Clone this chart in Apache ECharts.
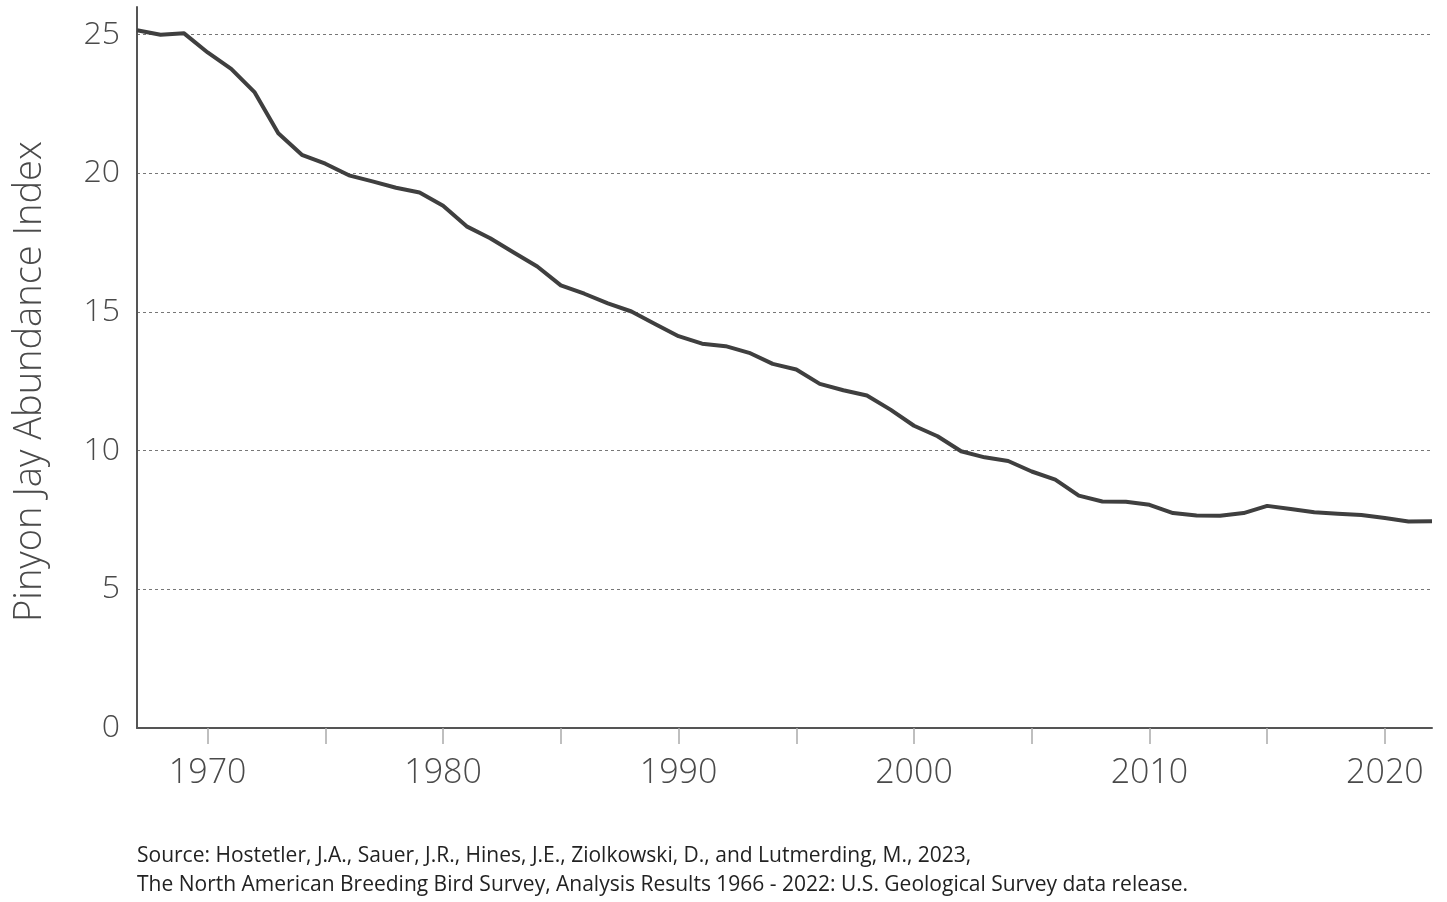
<!DOCTYPE html>
<html>
<head>
<meta charset="utf-8">
<script src="https://cdn.jsdelivr.net/npm/echarts@6/dist/echarts.min.js"></script>
<style>
html,body{margin:0;padding:0;background:#fff;}
#chart{width:1447px;height:902px;}
</style>
</head>
<body>
<div id="chart"></div>
<script>
const years = [];
for (let y = 1967; y <= 2022; y++) years.push(String(y));

const abundance = [
  25.16, 25.00, 25.05, 24.36, 23.77, 22.92, 21.45, 20.67, 20.35, 19.93,
  19.71, 19.48, 19.31, 18.83, 18.09, 17.66, 17.15, 16.64, 15.96, 15.66,
  15.31, 15.02, 14.57, 14.13, 13.86, 13.77, 13.53, 13.13, 12.93, 12.41,
  12.18, 11.99, 11.48, 10.90, 10.52, 9.98, 9.76, 9.63, 9.25, 8.96,
  8.38, 8.17, 8.16, 8.05, 7.75, 7.66, 7.65, 7.75, 8.01, 7.90,
  7.78, 7.73, 7.68, 7.57, 7.45, 7.46
];

const yTicks = [0, 5, 10, 15, 20, 25];
const yTitle = 'Pinyon Jay Abundance Index';
const sourceLines = [
  'Source: Hostetler, J.A., Sauer, J.R., Hines, J.E., Ziolkowski, D., and Lutmerding, M., 2023,',
  'The North American Breeding Bird Survey, Analysis Results 1966 - 2022: U.S. Geological Survey data release.'
];

const FONT = '"Open Sans", "DejaVu Sans", sans-serif';

const chart = echarts.init(document.getElementById('chart'), null, {renderer: 'canvas'});
chart.setOption({
  animation: false,
  backgroundColor: '#ffffff',
  grid: {left: 137, right: 15, top: 7, bottom: 174, containLabel: false, outerBoundsMode: 'none'},
  xAxis: {
    type: 'category',
    data: years,
    boundaryGap: false,
    axisLine: {show: true, lineStyle: {color: '#555555', width: 2}},
    axisTick: {
      show: true,
      length: 16,
      interval: (i, v) => Number(v) % 5 === 0,
      lineStyle: {color: '#aaaaaa', width: 1.5}
    },
    axisLabel: {
      interval: (i, v) => Number(v) % 10 === 0,
      margin: 28,
      fontFamily: FONT,
      fontWeight: 300,
      fontSize: 34,
      color: '#4a4a4a'
    },
    splitLine: {show: false}
  },
  yAxis: {
    type: 'value',
    min: 0,
    max: 26,
    interval: 5,
    name: yTitle,
    nameLocation: 'middle',
    nameGap: 88,
    nameTextStyle: {fontFamily: FONT, fontWeight: 300, fontSize: 38, color: '#4a4a4a', padding: [0, 28, 0, 0]},
    axisLine: {show: true, lineStyle: {color: '#555555', width: 2}},
    axisTick: {show: false},
    axisLabel: {
      margin: 17,
      showMaxLabel: false,
      fontFamily: FONT,
      fontWeight: 300,
      fontSize: 32,
      color: '#4a4a4a',
      formatter: v => (yTicks.indexOf(v) >= 0 ? String(v) : '')
    },
    splitLine: {
      show: true,
      showMinLine: false,
      showMaxLine: false,
      lineStyle: {color: '#777777', width: 1, type: [3, 3]}
    }
  },
  series: [{
    type: 'line',
    data: abundance,
    showSymbol: false,
    symbol: 'none',
    lineStyle: {color: '#3f3f3f', width: 4, join: 'round'},
    z: 5
  }],
  graphic: [
    {
      type: 'text', left: 137, top: 846,
      style: {text: sourceLines[0], font: '400 21px ' + FONT, fill: '#222222'}
    },
    {
      type: 'text', left: 137, top: 875,
      style: {text: sourceLines[1], font: '400 21px ' + FONT, fill: '#222222'}
    }
  ]
});
</script>
</body>
</html>
